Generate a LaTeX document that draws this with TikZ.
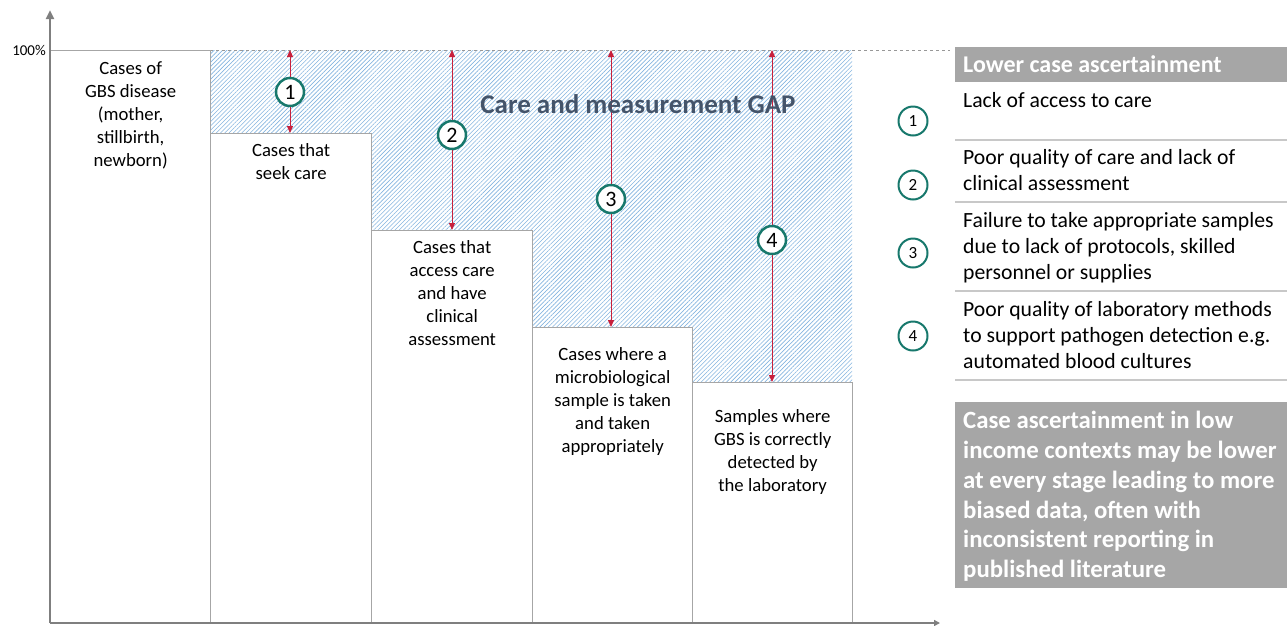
\documentclass[tikz,border=0pt]{standalone}
\usepackage{fontspec}
\setmainfont{Carlito}
\usetikzlibrary{arrows.meta,patterns.meta,positioning}
\definecolor{axisgray}{HTML}{7F7F7F}
\definecolor{boxgray}{HTML}{A6A6A6}
\definecolor{rulegray}{HTML}{C8C8C8}
\definecolor{gapblue}{HTML}{5B9BD5}
\definecolor{gapred}{HTML}{C8203C}
\definecolor{stepteal}{HTML}{17786C}
\definecolor{titleblue}{HTML}{44546A}

\begin{document}
\begin{tikzpicture}[x=1pt, y=-1pt,
    bar/.style={draw=boxgray, line width=1.3pt, fill=white, anchor=north west, inner sep=0pt},
    barlabel/.style={align=center, inner sep=0pt, anchor=north, font=\fontsize{18.7}{23}\selectfont},
    gaparrow/.style={draw=gapred, line width=1pt, {Triangle[length=7pt,width=6pt]}-{Triangle[length=7pt,width=6pt]}},
    stepnum/.style={circle, draw=stepteal, line width=2.5pt, fill=white, minimum size=28pt, inner sep=0pt, font=\fontsize{22}{22}\selectfont},
    rownum/.style={circle, draw=stepteal, line width=2pt, fill=white, minimum size=29pt, inner sep=0pt, font=\fontsize{17}{17}\selectfont},
    rowtext/.style={anchor=north west, align=left, inner sep=0pt, font=\fontsize{21.7}{26.3}\selectfont}]
    \useasboundingbox (0,0) rectangle (1287,625);
    % gap area:
    \fill [pattern={Lines[angle=45, distance=3pt, line width=0.6pt]}, pattern color=gapblue!75] (210,50) rectangle (852,620);
    \draw [axisgray!80, dashed, line width=0.5pt] (210,50) -- (950,50);
    % bars:
    \node [bar, minimum width=160pt, minimum height=572pt] (b1) at (50,50) {};
    \node [bar, minimum width=161pt, minimum height=489pt] (b2) at (210,133) {};
    \node [bar, minimum width=161pt, minimum height=392pt] (b3) at (371,230) {};
    \node [bar, minimum width=160pt, minimum height=295pt] (b4) at (532,327) {};
    \node [bar, minimum width=160pt, minimum height=240pt] (b5) at (692,382) {};
    \node [barlabel, below=11pt of b1.north] {Cases of\\GBS disease\\(mother,\\stillbirth,\\newborn)};
    \node [barlabel, below=10pt of b2.north] {Cases that\\seek care};
    \node [barlabel, below=10pt of b3.north] {Cases that\\access care\\and have\\clinical\\assessment};
    \node [barlabel, below=20pt of b4.north] {Cases where a\\microbiological\\sample is taken\\and taken\\appropriately};
    \node [barlabel, below=27pt of b5.north] {Samples where\\GBS is correctly\\detected by\\the laboratory};
    % axes:
    \draw [axisgray, line width=2.5pt, -{Triangle[length=9pt,width=8pt]}] (50,623) -- (50,10);
    \draw [axisgray, line width=2.5pt, -{Triangle[length=6pt,width=6pt]}] (50,623) -- (940,623);
    \node [anchor=east, inner sep=0pt, font=\fontsize{15}{15}\selectfont] (full) at (46,50) {100\%};
    % gap arrows:
    \coordinate (t1) at (290,50);
    \coordinate (t2) at (452,50);
    \coordinate (t3) at (611,50);
    \coordinate (t4) at (772,50);
    \draw [gaparrow] (t1) -- (t1 |- b2.north);
    \draw [gaparrow] (t2) -- (t2 |- b3.north);
    \draw [gaparrow] (t3) -- (t3 |- b4.north);
    \draw [gaparrow] (t4) -- (t4 |- b5.north);
    \node [stepnum] (g1) at (290,92) {1};
    \node [stepnum] (g2) at (452,135) {2};
    \node [stepnum] (g3) at (611,199) {3};
    \node [stepnum] (g4) at (772,240) {4};
    \node [font=\fontsize{27}{27}\selectfont\bfseries, text=titleblue] (gap) at (638,104) {Care and measurement GAP};
    % table:
    \fill [boxgray] (955,47) rectangle (1287,82);
    \node [anchor=west, inner sep=0pt, text=white, font=\fontsize{24}{24}\selectfont\bfseries] (head) at (963,64) {Lower case ascertainment};
    \foreach \y in {140,202,291,380}
        \draw [rulegray, line width=1.5pt] (955,\y) -- (1287,\y);
    \node [rownum] (r1) at (913,121) {1};
    \node [rownum] (r2) at (913,185) {2};
    \node [rownum] (r3) at (913,253) {3};
    \node [rownum] (r4) at (913,336) {4};
    \node [rowtext] (l1) at (963,92) {Lack of access to care};
    \node [rowtext] (l2) at (963,149) {Poor quality of care and lack of\\clinical assessment};
    \node [rowtext] (l3) at (963,212) {Failure to take appropriate samples\\due to lack of protocols, skilled\\personnel or supplies};
    \node [rowtext] (l4) at (963,301) {Poor quality of laboratory methods\\to support pathogen detection e.g.\\automated blood cultures};
    % note:
    \fill [boxgray] (955,402) rectangle (1287,588);
    \node [anchor=north west, align=left, inner sep=0pt, text=white, font=\fontsize{24.8}{29.8}\selectfont\bfseries] (note) at (963,411) {Case ascertainment in low\\income contexts may be lower\\at every stage leading to more\\biased data, often with\\inconsistent reporting in\\published literature};
\end{tikzpicture}
\end{document}
